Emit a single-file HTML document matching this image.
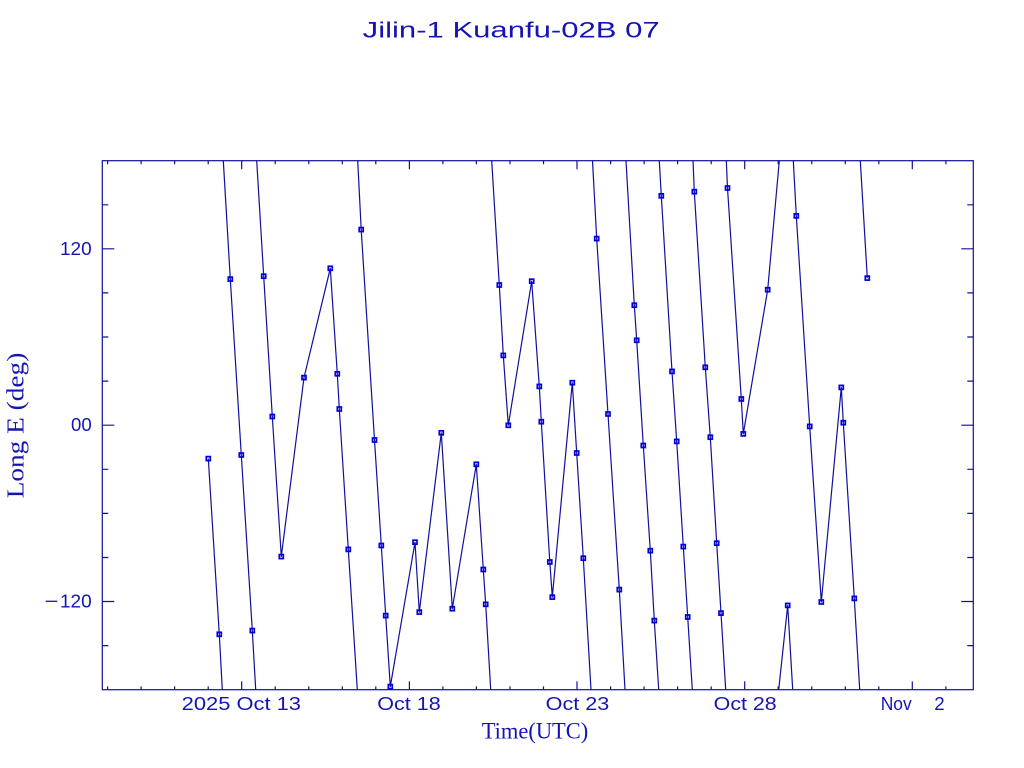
<!DOCTYPE html>
<html><head><meta charset="utf-8"><style>
html,body{margin:0;padding:0;background:#fff;}
svg{display:block;}
</style></head><body>
<svg width="1024" height="768" viewBox="0 0 1024 768" xmlns="http://www.w3.org/2000/svg">
<defs><rect id="m" x="-2" y="-2" width="4" height="4" fill="none" stroke="#0000dc" stroke-width="1.7"/></defs>
<rect width="1024" height="768" fill="#fff"/>
<text x="362.7" y="37.3" font-family="Liberation Sans, sans-serif" font-size="22" fill="#1414b4" textLength="297" lengthAdjust="spacingAndGlyphs">Jilin-1 Kuanfu-02B 07</text>
<g stroke="#10109c" stroke-width="1.2" fill="none">
<rect x="102.3" y="160.7" width="871" height="529"/>
<path d="M107.6,689.7v-3.3M141.1,689.7v-3.3M174.6,689.7v-3.3M208.2,689.7v-3.3M241.7,689.7v-8.3M275.2,689.7v-3.3M308.8,689.7v-3.3M342.3,689.7v-3.3M375.8,689.7v-3.3M409.4,689.7v-8.3M442.9,689.7v-3.3M476.4,689.7v-3.3M510,689.7v-3.3M543.5,689.7v-3.3M577,689.7v-8.3M610.6,689.7v-3.3M644.1,689.7v-3.3M677.6,689.7v-3.3M711.2,689.7v-3.3M744.7,689.7v-8.3M778.2,689.7v-3.3M811.8,689.7v-3.3M845.3,689.7v-3.3M878.8,689.7v-3.3M912.3,689.7v-8.3M945.9,689.7v-3.3"/>
<path d="M107.6,160.7v3.5M141.1,160.7v3.5M174.6,160.7v3.5M208.2,160.7v3.5M241.7,160.7v8.5M275.2,160.7v3.5M308.8,160.7v3.5M342.3,160.7v3.5M375.8,160.7v3.5M409.4,160.7v8.5M442.9,160.7v3.5M476.4,160.7v3.5M510,160.7v3.5M543.5,160.7v3.5M577,160.7v8.5M610.6,160.7v3.5M644.1,160.7v3.5M677.6,160.7v3.5M711.2,160.7v3.5M744.7,160.7v8.5M778.2,160.7v3.5M811.8,160.7v3.5M845.3,160.7v3.5M878.8,160.7v3.5M912.3,160.7v8.5M945.9,160.7v3.5"/>
<path d="M102.3,204.8h6M102.3,248.8h12M102.3,292.9h6M102.3,337h6M102.3,381.1h6M102.3,425.2h12M102.3,469.3h6M102.3,513.4h6M102.3,557.5h6M102.3,601.5h12M102.3,645.6h6"/>
<path d="M973.3,204.8h-6M973.3,248.8h-12M973.3,292.9h-6M973.3,337h-6M973.3,381.1h-6M973.3,425.2h-12M973.3,469.3h-6M973.3,513.4h-6M973.3,557.5h-6M973.3,601.5h-12M973.3,645.6h-6"/>
</g>
<g font-family="Liberation Sans, sans-serif" font-size="18" fill="#1414b4">
<text x="181.7" y="710" textLength="119.3" lengthAdjust="spacingAndGlyphs">2025 Oct 13</text>
<text x="377.3" y="710" textLength="63.4" lengthAdjust="spacingAndGlyphs">Oct 18</text>
<text x="545.7" y="710" textLength="63.6" lengthAdjust="spacingAndGlyphs">Oct 23</text>
<text x="713.7" y="710" textLength="63" lengthAdjust="spacingAndGlyphs">Oct 28</text>
<text x="880.7" y="710" textLength="31" lengthAdjust="spacingAndGlyphs">Nov</text>
<text x="934.3" y="710" textLength="10.4" lengthAdjust="spacingAndGlyphs">2</text>
<text x="60" y="255" textLength="31.7" lengthAdjust="spacingAndGlyphs">120</text>
<text x="71" y="431" textLength="20.7" lengthAdjust="spacingAndGlyphs">00</text>
<text x="60" y="607.3" textLength="31.7" lengthAdjust="spacingAndGlyphs">120</text>
</g>
<line x1="45.7" y1="601.3" x2="57.3" y2="601.3" stroke="#1414b4" stroke-width="1.3"/>
<text x="481.7" y="738.3" font-family="Liberation Serif, serif" font-size="23" fill="#1414b4" textLength="106.6" lengthAdjust="spacingAndGlyphs">Time(UTC)</text>
<text transform="translate(23.3,498.3) rotate(-90)" font-family="Liberation Serif, serif" font-size="24" fill="#1414b4" textLength="145.6" lengthAdjust="spacingAndGlyphs">Long E (deg)</text>
<g stroke="#10109c" stroke-width="1.2" fill="none" stroke-linejoin="round">
<polyline points="208.3,458.6 219.3,634.3 222.3,689.7"/>
<polyline points="223.3,160.7 230.3,279.1 241.3,455.0 252.3,630.6 255.7,689.7"/>
<polyline points="256.7,160.7 263.7,276.2 272.3,416.5 281.3,556.6 304,377.6 330.3,268.3 337.3,373.8 339.3,409.0 348.3,549.4 357.3,689.7"/>
<polyline points="357.7,160.7 361.2,229.6 374.5,440.0 381.3,545.5 385.7,615.6 390.3,686.6 415,542.2 419.3,612.1 441.3,432.8 452.3,608.7 476.3,464.3 483.3,569.5 485.7,604.3 490.7,689.7"/>
<polyline points="491.7,160.7 499.3,285.0 503.3,355.4 508.3,425.3 531.7,281.2 539.3,386.4 541.3,421.7 549.8,562.0 552.3,597.1 572.3,382.7 576.7,453.0 583.3,558.2 591,689.7"/>
<polyline points="592.5,160.7 596.7,238.6 608,414.0 619.3,589.6 625,689.7"/>
<polyline points="626,160.7 634.3,305.2 636.7,340.3 643.3,445.5 650.3,550.7 654.3,620.6 658.7,689.7"/>
<polyline points="659.3,160.7 661.3,195.8 672,371.4 676.7,441.4 683.3,546.6 687.7,617.0 692.3,689.7"/>
<polyline points="693,160.7 694.3,191.7 705.3,367.3 710.3,437.2 716.7,543.2 721,613.1 725.7,689.7"/>
<polyline points="726.3,160.7 727.5,188.0 741.3,399.0 743.3,433.9 767.7,289.7 779.3,160.7"/>
<polyline points="778.7,689.7 787.7,605.4 792.7,689.7"/>
<polyline points="793.3,160.7 796.3,215.9 809.7,426.4 821.3,602.0 841.3,387.4 843.3,422.7 854.3,598.4 859.7,689.7"/>
<polyline points="860.3,160.7 867.3,278.1"/>
</g>
<g>
<use href="#m" x="208.3" y="458.6"/><use href="#m" x="219.3" y="634.3"/><use href="#m" x="230.3" y="279.1"/><use href="#m" x="241.3" y="455.0"/>
<use href="#m" x="252.3" y="630.6"/><use href="#m" x="263.7" y="276.2"/><use href="#m" x="272.3" y="416.5"/><use href="#m" x="281.3" y="556.6"/>
<use href="#m" x="304" y="377.6"/><use href="#m" x="330.3" y="268.3"/><use href="#m" x="337.3" y="373.8"/><use href="#m" x="339.3" y="409.0"/>
<use href="#m" x="348.3" y="549.4"/><use href="#m" x="361.2" y="229.6"/><use href="#m" x="374.5" y="440.0"/><use href="#m" x="381.3" y="545.5"/>
<use href="#m" x="385.7" y="615.6"/><use href="#m" x="390.3" y="686.6"/><use href="#m" x="415" y="542.2"/><use href="#m" x="419.3" y="612.1"/>
<use href="#m" x="441.3" y="432.8"/><use href="#m" x="452.3" y="608.7"/><use href="#m" x="476.3" y="464.3"/><use href="#m" x="483.3" y="569.5"/>
<use href="#m" x="485.7" y="604.3"/><use href="#m" x="499.3" y="285.0"/><use href="#m" x="503.3" y="355.4"/><use href="#m" x="508.3" y="425.3"/>
<use href="#m" x="531.7" y="281.2"/><use href="#m" x="539.3" y="386.4"/><use href="#m" x="541.3" y="421.7"/><use href="#m" x="549.8" y="562.0"/>
<use href="#m" x="552.3" y="597.1"/><use href="#m" x="572.3" y="382.7"/><use href="#m" x="576.7" y="453.0"/><use href="#m" x="583.3" y="558.2"/>
<use href="#m" x="596.7" y="238.6"/><use href="#m" x="608" y="414.0"/><use href="#m" x="619.3" y="589.6"/><use href="#m" x="634.3" y="305.2"/>
<use href="#m" x="636.7" y="340.3"/><use href="#m" x="643.3" y="445.5"/><use href="#m" x="650.3" y="550.7"/><use href="#m" x="654.3" y="620.6"/>
<use href="#m" x="661.3" y="195.8"/><use href="#m" x="672" y="371.4"/><use href="#m" x="676.7" y="441.4"/><use href="#m" x="683.3" y="546.6"/>
<use href="#m" x="687.7" y="617.0"/><use href="#m" x="694.3" y="191.7"/><use href="#m" x="705.3" y="367.3"/><use href="#m" x="710.3" y="437.2"/>
<use href="#m" x="716.7" y="543.2"/><use href="#m" x="721" y="613.1"/><use href="#m" x="727.5" y="188.0"/><use href="#m" x="741.3" y="399.0"/>
<use href="#m" x="743.3" y="433.9"/><use href="#m" x="767.7" y="289.7"/><use href="#m" x="787.7" y="605.4"/><use href="#m" x="796.3" y="215.9"/>
<use href="#m" x="809.7" y="426.4"/><use href="#m" x="821.3" y="602.0"/><use href="#m" x="841.3" y="387.4"/><use href="#m" x="843.3" y="422.7"/>
<use href="#m" x="854.3" y="598.4"/><use href="#m" x="867.3" y="278.1"/>
</g>
</svg>
</body></html>
